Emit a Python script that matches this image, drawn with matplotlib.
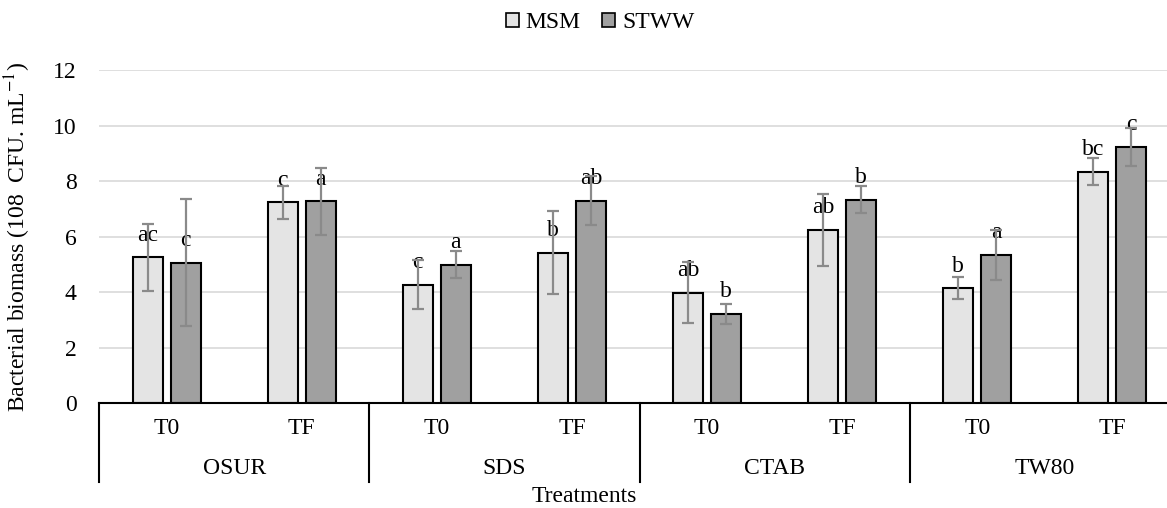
import matplotlib
matplotlib.use("Agg")
import matplotlib.pyplot as plt
import numpy as np
from matplotlib.transforms import blended_transform_factory
from matplotlib.patches import Patch

plt.rcParams['font.family'] = ['Liberation Serif', 'DejaVu Serif']
plt.rcParams['mathtext.fontset'] = 'stix'

groups = ["OSUR", "SDS", "CTAB", "TW80"]
times = ["T0", "TF"]
series = ["MSM", "STWW"]

msm = [5.25, 7.23, 4.27, 5.42, 3.98, 6.23, 4.13, 8.33]
msm_err = [1.2, 0.6, 0.9, 1.5, 1.1, 1.3, 0.4, 0.49]
stww = [5.06, 7.27, 4.99, 7.29, 3.21, 7.33, 5.33, 9.23]
stww_err = [2.3, 1.2, 0.49, 0.88, 0.36, 0.48, 0.9, 0.68]
msm_letters = ["ac", "c", "c", "b", "ab", "ab", "b", "bc"]
stww_letters = ["c", "a", "a", "ab", "b", "b", "a", "c"]

W, H = 1167, 508
fig = plt.figure(figsize=(W / 100, H / 100), dpi=100)
ax = fig.add_axes([99 / W, 1 - 403 / H, (1180 - 99) / W, (403 - 70) / H])

n = len(msm)
x = np.arange(n)
bw = 0.222
off = 0.141
fs = 17

ax.bar(x - off, msm, bw, color="#e4e4e4", edgecolor="black", linewidth=1.5, zorder=3, label="MSM")
ax.bar(x + off, stww, bw, color="#a0a0a0", edgecolor="black", linewidth=1.5, zorder=3, label="STWW")
ax.errorbar(x - off, msm, yerr=msm_err, fmt="none", ecolor="#8a8a8a", elinewidth=1.6, capsize=4.5, capthick=1.6, zorder=5)
ax.errorbar(x + off, stww, yerr=stww_err, fmt="none", ecolor="#8a8a8a", elinewidth=1.6, capsize=4.5, capthick=1.6, zorder=5)

for i in range(n):
    ax.text(x[i] - off, msm[i] + 0.8, msm_letters[i], ha="center", va="center", fontsize=fs, zorder=4)
    ax.text(x[i] + off, stww[i] + 0.8, stww_letters[i], ha="center", va="center", fontsize=fs, zorder=4)

ax.set_xlim(-0.5, n - 0.5)
ax.set_ylim(0, 12)
ax.set_yticks(np.arange(0, 13, 2))
ax.tick_params(axis="y", length=0, pad=16, labelsize=fs)
ax.set_xticks([])
ax.grid(axis="y", color="#d9d9d9", linewidth=1.2, zorder=0)
ax.set_axisbelow(True)
for s in ["left", "right", "top"]:
    ax.spines[s].set_visible(False)
ax.spines["bottom"].set_linewidth(1.5)
ax.spines["bottom"].set_zorder(6)

ax.set_ylabel(r"Bacterial biomass (108  CFU. mL$^{-1}$)", fontsize=fs)
ax.yaxis.set_label_coords(-66 / (1180 - 99), 0.5)

tr = blended_transform_factory(ax.transData, fig.transFigure)
for i in range(n):
    ax.text(x[i], 1 - 429 / H, times[i % 2], transform=tr, ha="center", va="center", fontsize=fs)
for g, name in enumerate(groups):
    ax.text(2 * g + 0.5, 1 - 469 / H, name, transform=tr, ha="center", va="center", fontsize=fs)
for b in np.arange(-0.5, n, 2):
    ax.plot([b, b], [1 - 403 / H, 1 - 482 / H], transform=tr, color="black", linewidth=1.5, clip_on=False)

fig.text(584 / W, 1 - 496 / H, "Treatments", ha="center", va="center", fontsize=fs)

handles = [Patch(facecolor="#e4e4e4", edgecolor="black", linewidth=1.2),
           Patch(facecolor="#a0a0a0", edgecolor="black", linewidth=1.2)]
fig.legend(handles, series, loc="center", bbox_to_anchor=(600 / W, 1 - 23 / H), ncol=2, frameon=False,
           fontsize=fs, handlelength=0.55, handleheight=0.55, handletextpad=0.3, columnspacing=0.9)

fig.savefig("out.png", dpi=100)
